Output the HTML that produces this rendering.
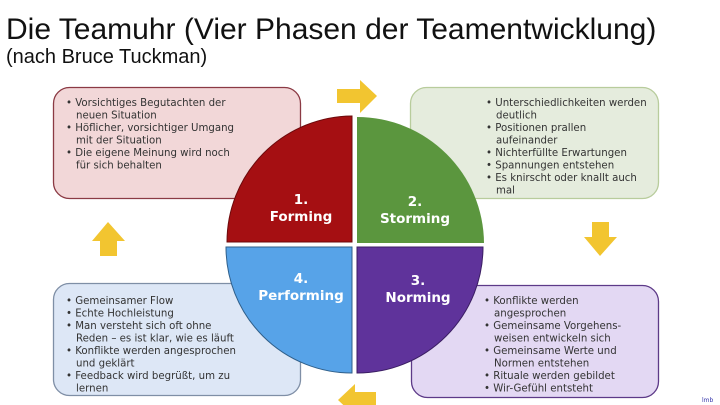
<!DOCTYPE html>
<html><head><meta charset="utf-8"><style>
html,body{margin:0;padding:0;background:#fff;width:720px;height:405px;overflow:hidden}
svg{display:block}
.t{font-family:"DejaVu Sans",Verdana,sans-serif;font-size:10.2px;fill:#333}
.q{font-family:"DejaVu Sans",Verdana,sans-serif;font-size:13.5px;font-weight:bold;fill:#fff;text-anchor:middle}
</style></head><body>
<svg width="720" height="405" viewBox="0 0 720 405">
<text x="6" y="39" font-family="Liberation Sans,sans-serif" font-size="30" fill="#111">Die Teamuhr (Vier Phasen der Teamentwicklung)</text>
<text x="6" y="63" font-family="Liberation Sans,sans-serif" font-size="20" fill="#111">(nach Bruce Tuckman)</text>

<rect x="53.5" y="87.5" width="247" height="111" rx="16" fill="#f2d7d8" stroke="#8b3a44" stroke-width="1.3"/>
<rect x="410.5" y="87.5" width="248" height="111" rx="16" fill="#e5ecdd" stroke="#b8cc9c" stroke-width="1.3"/>
<rect x="53.5" y="283.5" width="247" height="112" rx="16" fill="#dde7f6" stroke="#7f8fa6" stroke-width="1.3"/>
<rect x="411.5" y="285.5" width="247" height="112" rx="16" fill="#e3d8f3" stroke="#5d3a88" stroke-width="1.3"/>

<g class="t">
<text x="66" y="106">• Vorsichtiges Begutachten der</text>
<text x="76" y="118.5">neuen Situation</text>
<text x="66" y="131">• Höflicher, vorsichtiger Umgang</text>
<text x="76" y="143.5">mit der Situation</text>
<text x="66" y="156">• Die eigene Meinung wird noch</text>
<text x="76" y="168.5">für sich behalten</text>

<text x="486" y="106">• Unterschiedlichkeiten werden</text>
<text x="496" y="118.5">deutlich</text>
<text x="486" y="131">• Positionen prallen</text>
<text x="496" y="143.5">aufeinander</text>
<text x="486" y="156">• Nichterfüllte Erwartungen</text>
<text x="486" y="168.5">• Spannungen entstehen</text>
<text x="486" y="181">• Es knirscht oder knallt auch</text>
<text x="496" y="193.5">mal</text>

<text x="66" y="304">• Gemeinsamer Flow</text>
<text x="66" y="316.5">• Echte Hochleistung</text>
<text x="66" y="329">• Man versteht sich oft ohne</text>
<text x="76" y="341.5">Reden – es ist klar, wie es läuft</text>
<text x="66" y="354">• Konflikte werden angesprochen</text>
<text x="76" y="366.5">und geklärt</text>
<text x="66" y="379">• Feedback wird begrüßt, um zu</text>
<text x="76" y="391.5">lernen</text>

<text x="484" y="304">• Konflikte werden</text>
<text x="494" y="316.5">angesprochen</text>
<text x="484" y="329">• Gemeinsame Vorgehens-</text>
<text x="494" y="341.5">weisen entwickeln sich</text>
<text x="484" y="354">• Gemeinsame Werte und</text>
<text x="494" y="366.5">Normen entstehen</text>
<text x="484" y="379">• Rituale werden gebildet</text>
<text x="484" y="391.5">• Wir-Gefühl entsteht</text>
</g>

<g fill="#f2c530">
<polygon points="337,89 360,89 360,80 377,96 360,113 360,103 337,103"/>
<polygon points="592,222 609,222 609,237 617,237 600,256 584,237 592,237"/>
<polygon points="100,256 117,256 117,241 125,241 108,222 92,241 100,241"/>
<polygon points="376,392 355,392 355,384 338,400 355,416 355,406 376,406"/>
</g>

<g stroke="#fff" stroke-width="0">
<path d="M352,242 L227,242 A126,126 0 0 1 352,116 Z" fill="#a50f12" stroke="#6d0a0c" stroke-width="1"/>
<path d="M357,243 L357,117 A127,127 0 0 1 484,243 Z" fill="#5b963e"/>
<path d="M352,247 L352,373 A126,126 0 0 1 226,247 Z" fill="#57a3e8" stroke="#2f5f8a" stroke-width="1"/>
<path d="M357,247 L483,247 A126,126 0 0 1 357,373 Z" fill="#5f339b" stroke="#3b1e63" stroke-width="1"/>
</g>

<text class="q" x="301" y="204">1.</text>
<text class="q" x="301" y="221">Forming</text>
<text class="q" x="415" y="206">2.</text>
<text class="q" x="415" y="223">Storming</text>
<text class="q" x="301" y="283">4.</text>
<text class="q" x="301" y="300">Performing</text>
<text class="q" x="418" y="285">3.</text>
<text class="q" x="418" y="302">Norming</text>
<text x="702" y="402" font-family="DejaVu Sans,sans-serif" font-size="6" fill="#33a">lmb</text>
</svg>
</body></html>
